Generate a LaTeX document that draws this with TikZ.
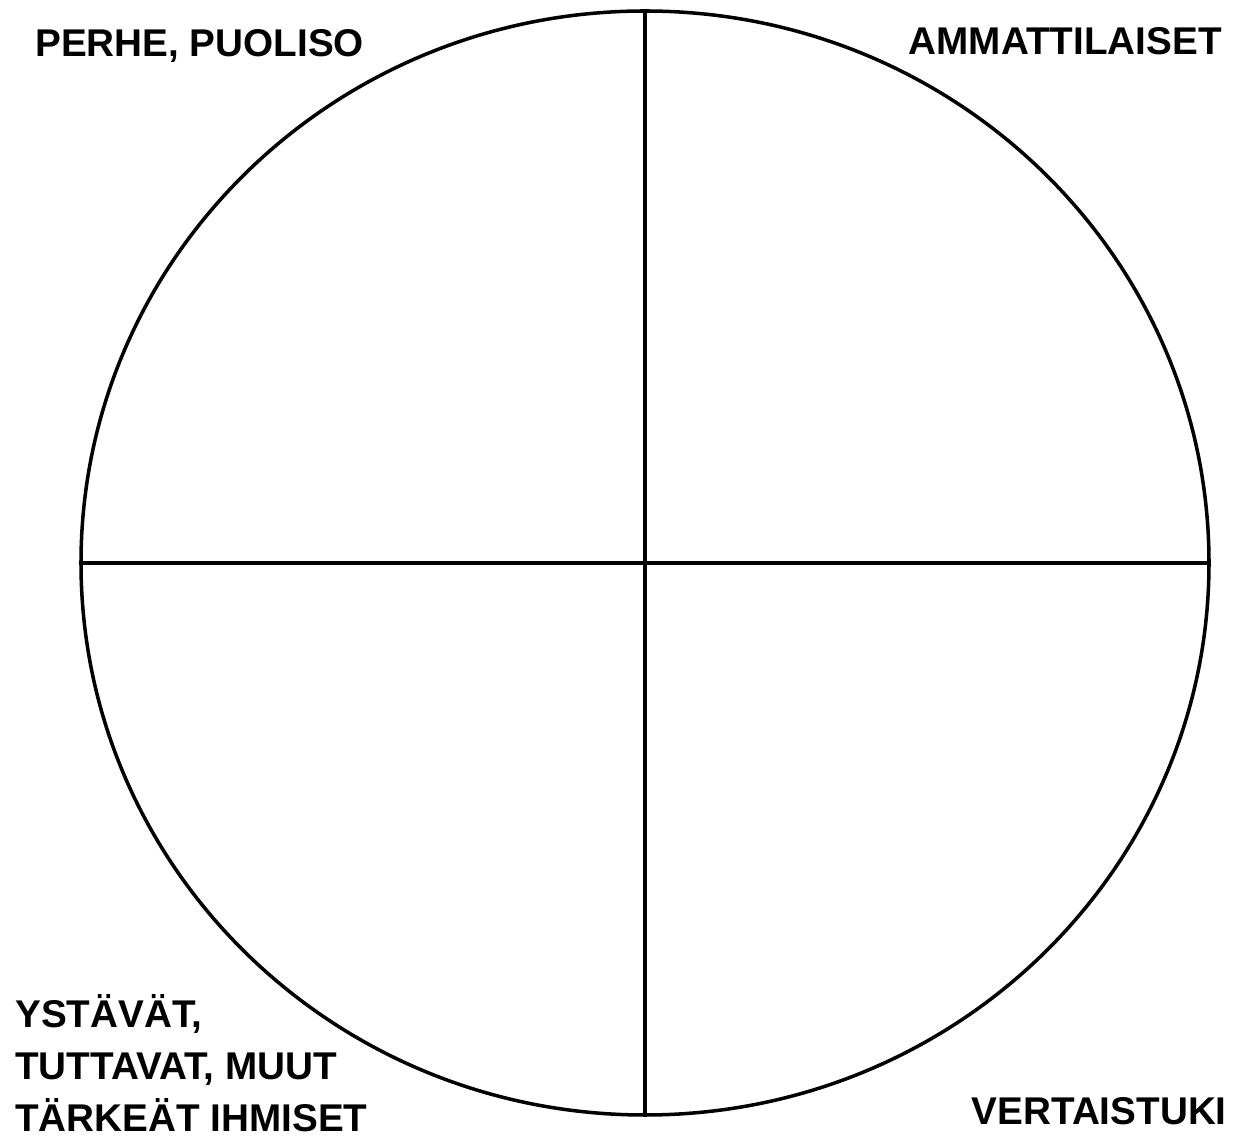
\documentclass[tikz,border=0pt]{standalone}
\usepackage{fontspec}
\setmainfont{Liberation Sans}
\usetikzlibrary{shapes.geometric}

\begin{document}
\begin{tikzpicture}[
    wheel/.style={ellipse, draw, line width=2pt, inner sep=0pt, minimum width=22.56cm, minimum height=22.08cm},
    divider/.style={line width=2pt},
    label/.style={inner sep=0pt, font=\bfseries\fontsize{22}{29.6}\selectfont, align=left},
]
\useasboundingbox (0,0) rectangle (24.84,22.8);

% Circle
\node[wheel] (C) at (12.9,11.54) {};

% Quadrant dividers
\draw[divider] (C.north) -- (C.south);
\draw[divider] (C.west) -- (C.east);

% Quadrant labels
\node[label, anchor=base west] (perhe) at (0.7,21.66) {PERHE, PUOLISO};
\node[label, anchor=base east] (ammatti) at (24.44,21.7) {AMMATTILAISET};
\node[label, anchor=base west] (ystavat) at (0.3,0.16) {YSTÄVÄT,\\TUTTAVAT, MUUT\\TÄRKEÄT IHMISET};
\node[label, anchor=base east] (vertais) at (24.54,0.3) {VERTAISTUKI};

\end{tikzpicture}
\end{document}
